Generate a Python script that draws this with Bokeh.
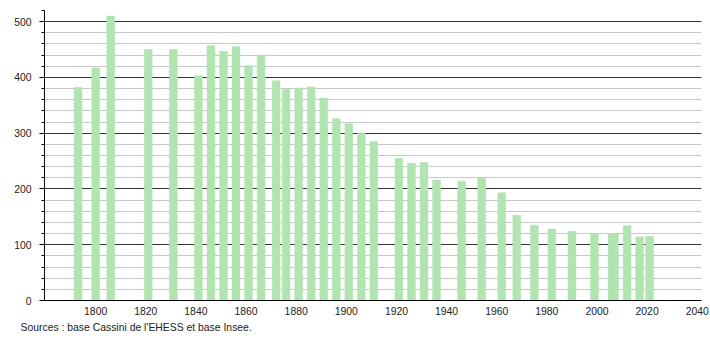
from bokeh.plotting import figure
from bokeh.models import FixedTicker, Range1d, Title
from bokeh.embed import file_html
from bokeh.resources import INLINE

years = [1793, 1800, 1806, 1821, 1831, 1841, 1846, 1851, 1856, 1861, 1866,
         1872, 1876, 1881, 1886, 1891, 1896, 1901, 1906, 1911, 1921, 1926,
         1931, 1936, 1946, 1954, 1962, 1968, 1975, 1982, 1990, 1999, 2006,
         2007, 2012, 2017, 2021]
population = [382, 417, 510, 450, 450, 403, 457, 447, 455, 421, 439,
              394, 379, 381, 383, 363, 326, 317, 300, 285, 255, 246,
              247, 216, 214, 221, 193, 153, 135, 128, 124, 120, 120,
              120, 134, 114, 115]
x_ticks = [1800, 1820, 1840, 1860, 1880, 1900, 1920, 1940, 1960, 1980, 2000, 2020, 2040]
y_ticks = [0, 100, 200, 300, 400, 500]
source_text = "Sources : base Cassini de l'EHESS et base Insee."

FONT = "Liberation Sans"
FS = "10.4px"

p = figure(frame_width=657, frame_height=290,
           min_border_left=44, min_border_right=9, min_border_top=10,
           min_border_bottom=10,
           x_range=Range1d(1779.6, 2041.7), y_range=Range1d(0, 520),
           output_backend="svg", toolbar_location=None,
           background_fill_color="white", border_fill_color="white")
p.outline_line_color = None

p.vbar(x=years, top=population, width=3.1, bottom=0,
       fill_color="#b0e4b0", line_color="#b0e4b0", line_alpha=0.5, line_width=1)

# y axis
p.yaxis.ticker = FixedTicker(ticks=y_ticks, minor_ticks=list(range(0, 521, 20)))
p.yaxis.axis_line_color = "black"
p.yaxis.major_tick_line_color = "black"
p.yaxis.minor_tick_line_color = "black"
p.yaxis.major_tick_out = 5
p.yaxis.major_tick_in = 0
p.yaxis.minor_tick_out = 3
p.yaxis.minor_tick_in = 0
p.yaxis.major_label_text_font = FONT
p.yaxis.major_label_text_font_size = FS
p.yaxis.major_label_text_color = "#222222"
p.yaxis.major_label_standoff = 8

# x axis
p.xaxis.ticker = FixedTicker(ticks=x_ticks)
p.xaxis.axis_line_color = "black"
p.xaxis.major_tick_line_color = None
p.xaxis.minor_tick_line_color = None
p.xaxis.major_label_text_font = FONT
p.xaxis.major_label_text_font_size = FS
p.xaxis.major_label_text_color = "#222222"
p.xaxis.major_label_standoff = 0

# grids
p.xgrid.grid_line_color = None
p.ygrid.ticker = FixedTicker(ticks=y_ticks, minor_ticks=list(range(0, 521, 20)))
p.ygrid.grid_line_color = "#333333"
p.ygrid.grid_line_width = 1
p.ygrid.minor_grid_line_color = "#c8c8c8"
p.ygrid.minor_grid_line_width = 1

p.add_layout(Title(text=source_text, align="left", text_font=FONT,
                   text_font_size=FS, text_font_style="normal",
                   text_color="#222222", offset=-24, standoff=4), "below")

open("out.html", "w").write(file_html(p, INLINE))
